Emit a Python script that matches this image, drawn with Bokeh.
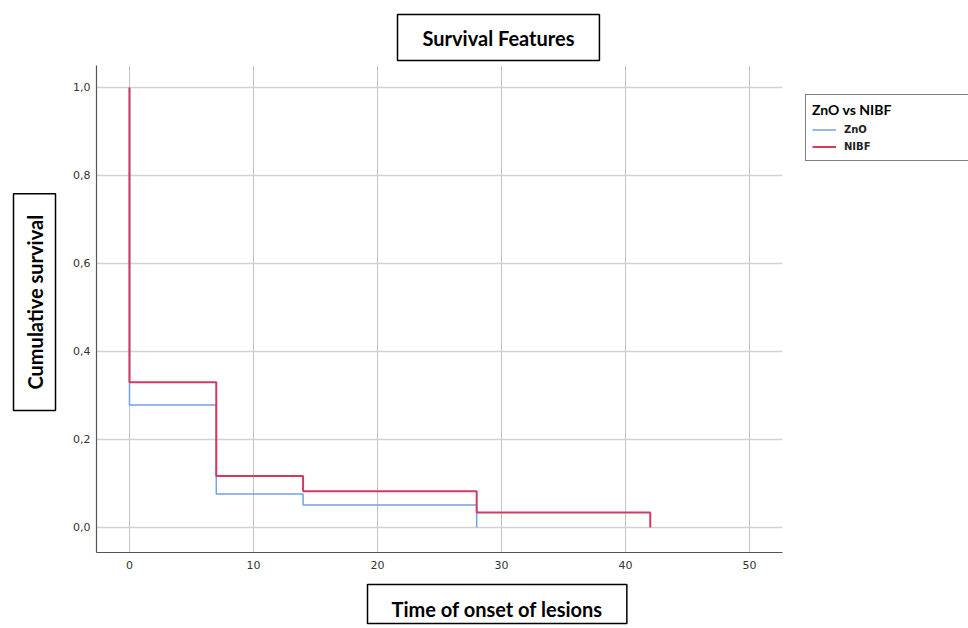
from bokeh.plotting import figure
from bokeh.models import (Range1d, FixedTicker, CustomJSTickFormatter, Title, Legend,
                          LegendItem, LinearAxis)
from bokeh.embed import file_html
from bokeh.resources import INLINE

# Kaplan-Meier step data (time, cumulative survival)
times_zno = [0, 0, 7, 14, 28]
surv_zno = [1.0, 0.278, 0.076, 0.051, 0.0]
times_nibf = [0, 0, 7, 14, 28, 42]
surv_nibf = [1.0, 0.330, 0.117, 0.082, 0.034, 0.0]
x_ticks = [0, 10, 20, 30, 40, 50]
y_ticks = [0.0, 0.2, 0.4, 0.6, 0.8, 1.0]

W, H = 968, 628
FL, FT, FB = 96, 65, 552  # frame edges in px (frame runs to the right edge)
X0, X1 = -2.66, 52.66     # visible plot-area extent in data units
PX_PER_UNIT = 12.4
X_END = X0 + (W - FL) / PX_PER_UNIT

p = figure(width=W, height=H, output_backend="svg", toolbar_location=None,
           x_range=Range1d(X0, X_END), y_range=Range1d(-0.057, 1.05),
           min_border_left=FL, min_border_right=0,
           min_border_top=FT, min_border_bottom=H - FB)
p.outline_line_color = None
p.background_fill_color = "white"
p.border_fill_color = "white"

for ax, ticks in ((p.xaxis, x_ticks), (p.yaxis, y_ticks)):
    ax.ticker = FixedTicker(ticks=ticks)
    ax.axis_line_color = "#555555"
    ax.axis_line_width = 1.2
    ax.major_tick_line_color = None
    ax.minor_tick_line_color = None
    ax.major_tick_out = 0
    ax.major_tick_in = 0
    ax.major_label_text_font = "DejaVu Sans"
    ax.major_label_text_font_size = "11px"
    ax.major_label_text_color = "#333333"
p.yaxis.formatter = CustomJSTickFormatter(code="return tick.toFixed(1).replace('.', ',');")
p.yaxis.major_label_standoff = 6
p.xaxis.major_label_standoff = 8
p.xaxis.bounds = (X0, X1)

p.xgrid.grid_line_color = "#c2c2c2"
p.xgrid.grid_line_width = 1
p.ygrid.grid_line_color = "#d2d2d2"
p.ygrid.grid_line_width = 1.6
p.ygrid.cross_bounds = (X0, X1)

r_zno = p.step(times_zno, surv_zno, mode="after", line_color="#72a3e2", line_width=1.5)
r_nibf = p.step(times_nibf, surv_nibf, mode="after", line_color="#d33a62", line_width=2)

legend = Legend(items=[LegendItem(label="ZnO", renderers=[r_zno]),
                       LegendItem(label="NIBF", renderers=[r_nibf])],
                title="ZnO vs NIBF", location=(709, 391),
                title_text_font="Lato", title_text_font_style="bold",
                title_text_font_size="14px", title_text_color="black",
                title_standoff=4,
                label_text_font="DejaVu Sans", label_text_font_style="bold",
                label_text_font_size="10px", label_text_color="#222222",
                glyph_width=24, glyph_height=15, spacing=2, padding=6, margin=0,
                label_standoff=8, label_width=150,
                border_line_color="black", border_line_width=1,
                background_fill_alpha=0)
p.add_layout(legend)


def spacer(size, tick):
    # an empty, invisible axis that only reserves `size` pixels in a side panel
    return LinearAxis(ticker=FixedTicker(ticks=[tick]),
                      formatter=CustomJSTickFormatter(code="return '';"),
                      axis_line_color=None, major_tick_line_color=None,
                      minor_tick_line_color=None, major_tick_out=size, major_tick_in=0,
                      major_label_standoff=0, major_label_text_font_size="1px")


def boxed(text, align, offset, standoff, pl, pr, pt, pb, valign="bottom"):
    return Title(text=text, align=align, offset=offset, standoff=standoff,
                 vertical_align=valign,
                 text_font="Lato", text_font_style="bold", text_font_size="20px",
                 text_color="black",
                 padding=dict(left=pl, right=pr, top=pt, bottom=pb),
                 border_line_color="black", border_line_width=1.5,
                 background_fill_color="white")


p.add_layout(boxed("Survival Features", "left", 301, 10, 25, 25, 11, 11), "above")
p.add_layout(spacer(2, y_ticks[0]), "left")
p.add_layout(boxed("Cumulative survival", "left", 142, 0, 21, 21, 9, 9, "middle"), "left")
p.add_layout(spacer(11, x_ticks[0]), "below")
p.add_layout(boxed("Time of onset of lesions", "left", 271, 0, 24, 24, 12, 3), "below")

open("out.html", "w").write(file_html(p, INLINE))
